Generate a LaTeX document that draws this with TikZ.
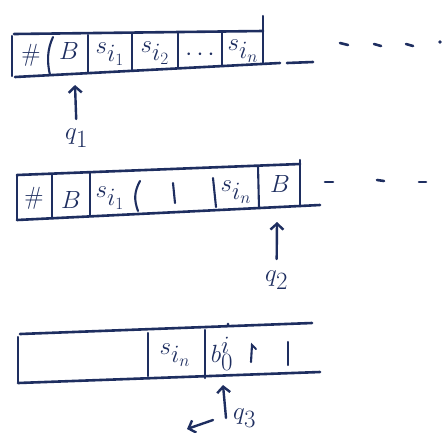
\documentclass[tikz,border=0pt]{standalone}
\usetikzlibrary{arrows.meta}
\definecolor{ink}{RGB}{30,46,96}
\tikzset{
  tapeline/.style={draw=ink, line width=2.6pt, line cap=round},
  cellline/.style={draw=ink, line width=2.1pt, line cap=round},
  sym/.style={text=ink, inner sep=0pt, font=\fontsize{36}{40}\selectfont},
  headarrow/.style={draw=ink, line width=2.4pt, line cap=round, -{Straight Barb[length=6pt,width=13pt,line width=2.4pt]}},
  tapedash/.style={draw=ink, line width=2.6pt, line cap=round}
}
\begin{document}
\begin{tikzpicture}[x=1pt,y=-1pt]
\useasboundingbox[fill=white] (0,0) rectangle (446,432);

% ---------- tape 1 ----------
\draw[tapeline] (14,34) -- (263,31);
\draw[tapeline] (15,77) -- (280,63);
\draw[tapeline] (287,63) -- (313,62);
\draw[cellline] (12,36) -- (12,76);
\draw[cellline] (53,37) .. controls (47,50) and (47,62) .. (50,75);
\draw[cellline] (88,35) -- (88,73);
\draw[cellline] (132,34) -- (132,71);
\draw[cellline] (178,33) -- (178,68);
\draw[cellline] (222,33) -- (222,66);
\draw[cellline] (263,16) -- (263,64);
\node[sym] (t1a) at (31,55) {$\#$};
\node[sym] (t1b) at (69,51) {$B$};
\node[sym] (t1c) at (110,54) {$s_{i_1}$};
\node[sym] (t1d) at (155,53) {$s_{i_2}$};
\node[sym] (t1e) at (200,55) {$\cdots$};
\node[sym] (t1f) at (243,51) {$s_{i_n}$};
\draw[tapedash] (340,43) -- (348,45);
\draw[tapedash] (374,44) -- (381,46);
\draw[tapedash] (406,44) -- (413,46);
\fill[ink] (440,42) circle (1.8pt);
\coordinate (h1) at (75,85);
\node[sym, anchor=north west] (q1) at (65,129) {$q_1$};
\draw[headarrow, shorten <=10pt] (q1.north) -- (h1);

% ---------- tape 2 ----------
\draw[tapeline] (17,175) -- (300,164);
\draw[tapeline] (17,220) -- (320,205);
\draw[cellline] (17,175) -- (17,220);
\draw[cellline] (52,174) -- (52,218);
\draw[cellline] (90,172) -- (90,216);
\draw[cellline] (140,181) .. controls (134,192) and (134,200) .. (138,211);
\draw[cellline] (173,183) -- (175,203);
\draw[cellline] (213,178) -- (216,207);
\draw[cellline] (258,166) -- (259,208);
\draw[cellline] (300,160) -- (300,206);
\node[sym] (t2a) at (34,198) {$\#$};
\node[sym] (t2b) at (71,200) {$B$};
\node[sym] (t2c) at (110,198) {$s_{i_1}$};
\node[sym] (t2d) at (236,192) {$s_{i_n}$};
\node[sym] (t2e) at (280,184) {$B$};
\draw[tapedash] (325,182) -- (333,182);
\draw[tapedash] (377,180) -- (384,181);
\draw[tapedash] (419,182) -- (426,182);
\coordinate (h2) at (277,222);
\node[sym, anchor=north west] (q2) at (265,271) {$q_2$};
\draw[headarrow, shorten <=12pt] (q2.north) -- (h2);

% ---------- tape 3 ----------
\draw[tapeline] (20,334) -- (312,323);
\draw[tapeline] (18,383) -- (320,372);
\draw[cellline] (18,337) -- (18,382);
\draw[cellline] (148,333) -- (148,376);
\draw[cellline] (205,330) -- (205,378);
\draw[cellline] (288,342) -- (288,365);
\fill[ink] (228,324) circle (1.5pt);
\node[sym] (t3a) at (175,355) {$s_{i_n}$};
\node[sym] (t3b) at (222,354) {$b^{i}_0$};
\draw[cellline] (251,362) -- (252,345) -- (256,349);
\coordinate (h3) at (223,385);
\coordinate (s3) at (226,418);
\node[sym, anchor=north west] (q3) at (233,409) {$q_3$};
\draw[headarrow] (s3) -- (h3);
\coordinate (la) at (213,420);
\coordinate (lb) at (187,429);
\draw[headarrow] (la) -- (lb);
\end{tikzpicture}
\end{document}
